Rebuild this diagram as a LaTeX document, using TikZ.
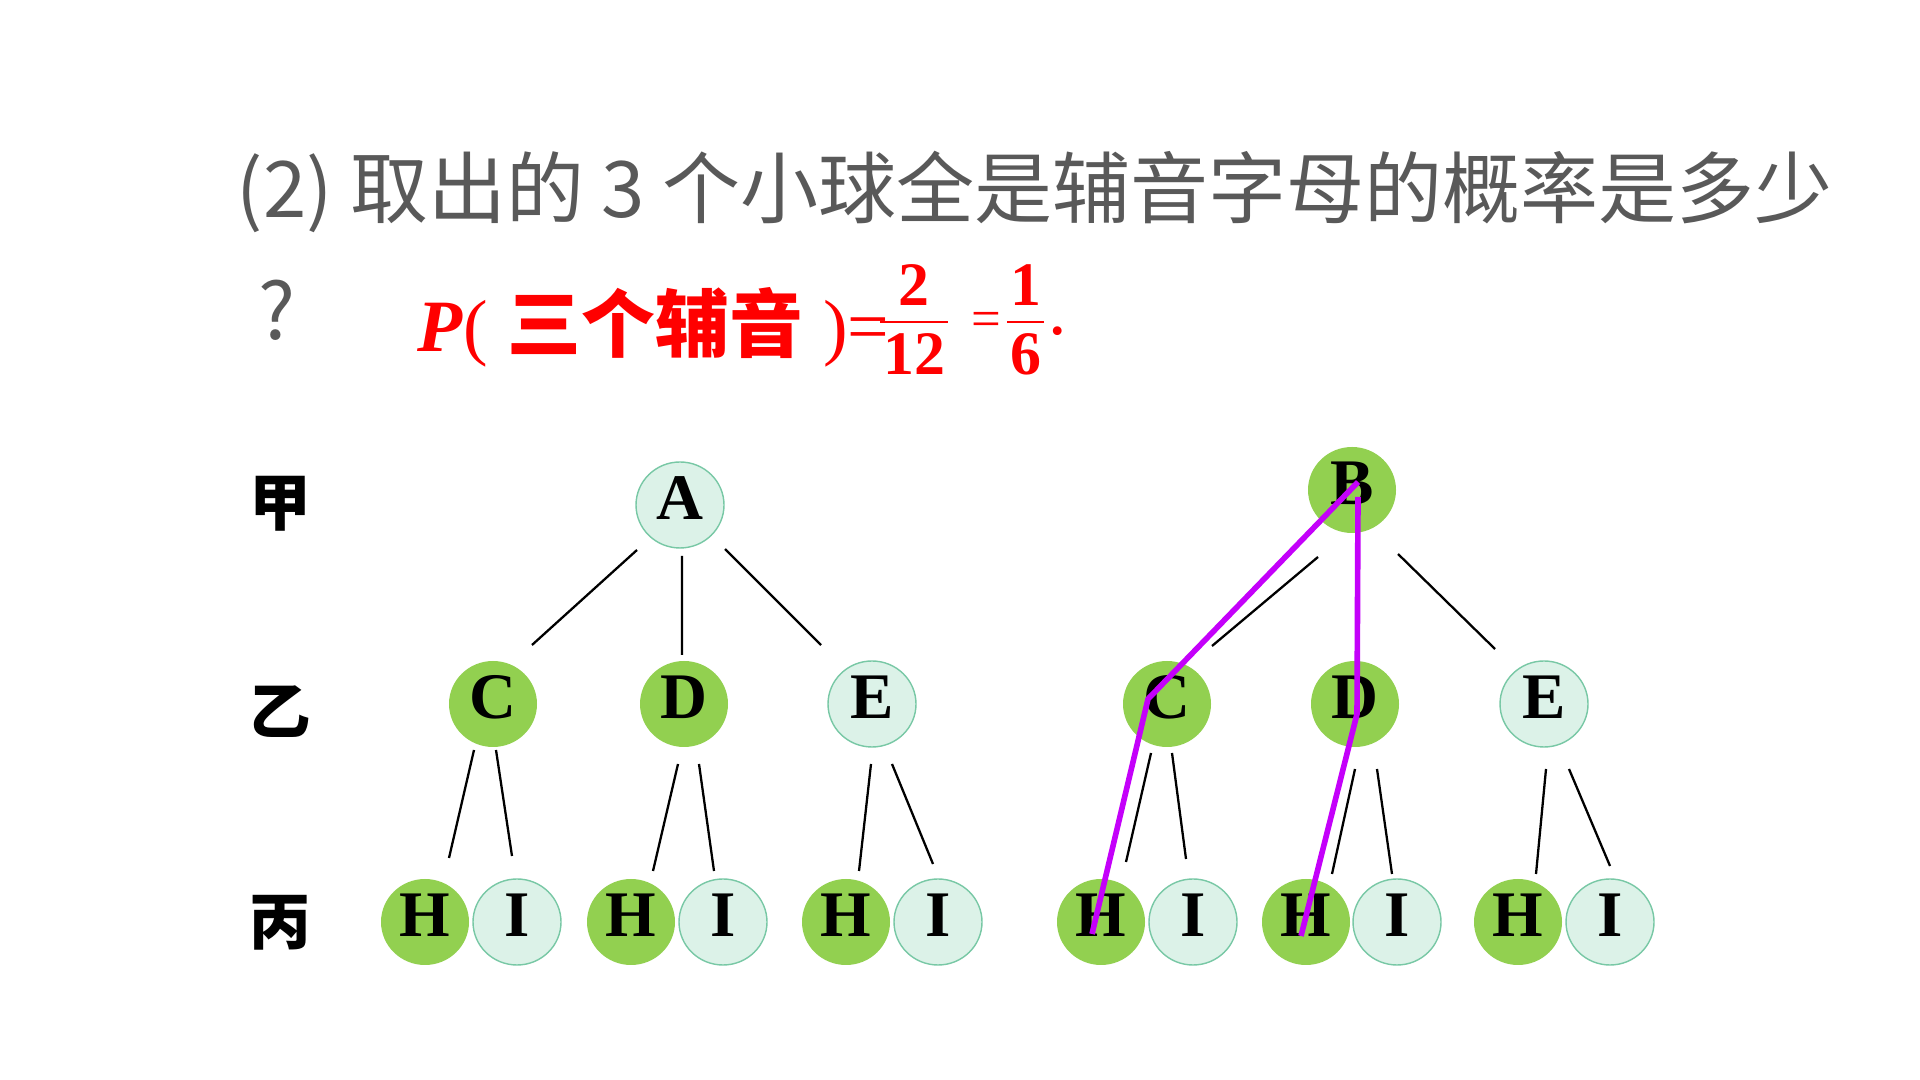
\documentclass[tikz,border=0pt]{standalone}
\usepackage{fontspec}
\setmainfont{Liberation Serif}
\newfontfamily\cjk{Noto Sans CJK SC}
\usetikzlibrary{shapes.geometric}

\definecolor{ballgreen}{RGB}{146,208,80}
\definecolor{ballpale}{RGB}{220,242,232}
\definecolor{ballrim}{RGB}{120,200,165}
\definecolor{titlegray}{RGB}{89,89,89}
\definecolor{pathpurple}{RGB}{196,0,250}

% stacked fraction, bar tight to the digits
\newcommand{\ratio}[2]{\raisebox{2.8pt}{\setlength{\tabcolsep}{0.8pt}\setlength{\arrayrulewidth}{0.7pt}%
    \renewcommand{\arraystretch}{0.7}\begin{tabular}{c}\textbf{#1}\\\hline\rule{0pt}{14.5pt}\textbf{#2}\end{tabular}}}

\begin{document}
\begin{tikzpicture}[
    ball/.style={ellipse, minimum width=0.88cm, minimum height=0.86cm, inner sep=0pt,
        text height=0.43cm, text depth=0.14cm, font=\fontsize{18.5}{20}\selectfont\bfseries},
    cons/.style={ball, fill=ballgreen},
    vow/.style={ball, fill=ballpale, draw=ballrim, line width=0.4pt},
    branch/.style={line width=0.65pt},
    pick/.style={draw=pathpurple, line width=1.6pt, line join=round},
    rowlabel/.style={font=\cjk\bfseries\fontsize{17.5}{20}\selectfont}
]
    \useasboundingbox (0,0) rectangle (19.2,10.8);
    \fill[white] (0,0) rectangle (19.2,10.8);

    % question and answer
    \node[anchor=west, inner sep=0pt, text=titlegray, font=\cjk\fontsize{22.2}{26}\selectfont] (title) at (2.36,8.88)
        {(2) 取出的 3 个小球全是辅音字母的概率是多少};
    \node[inner sep=0pt, text=titlegray, font=\cjk\fontsize{22.2}{26}\selectfont] (qmark) at (2.77,7.70) {?};
    \node[anchor=base west, inner sep=0pt, text=red, font=\fontsize{21}{24}\selectfont] (answer) at (4.17,7.28)
        {\textbf{\textit{P}}(\hspace{0.2cm}{\cjk\bfseries 三个辅音}\hspace{0.2cm})=\hspace{-0.09cm}{\fontsize{17.6}{20}\selectfont\ratio{2}{12}}\hspace{0.24cm}\raisebox{4.3pt}{\fontsize{15}{17}\selectfont =}\hspace{0.06cm}{\fontsize{17.6}{20}\selectfont\ratio{1}{6}}\hspace{0.04cm}\raisebox{0.17cm}{.}};

    % row labels
    \node[rowlabel] (jia) at (2.80,5.76) {甲};
    \node[rowlabel] (yi) at (2.80,3.68) {乙};
    \node[rowlabel] (bing) at (2.80,1.57) {丙};

    % left tree
    \node[vow] (A) at (6.80,5.75) {A};
    \node[cons] (C1) at (4.93,3.76) {C};
    \node[cons] (D1) at (6.84,3.76) {D};
    \node[vow] (E1) at (8.72,3.76) {E};

    % right tree
    \node[cons] (B) at (13.52,5.90) {B};
    \node[cons] (C2) at (11.67,3.76) {C};
    \node[cons] (D2) at (13.55,3.76) {D};
    \node[vow] (E2) at (15.44,3.76) {E};

    % third row
    \foreach \n/\x in {H1/4.25, H2/6.31, H3/8.46, H4/11.01, H5/13.06, H6/15.18}
        \node[cons] (\n) at (\x,1.58) {H};
    \foreach \n/\x in {I1/5.17, I2/7.23, I3/9.38, I4/11.93, I5/13.97, I6/16.10}
        \node[vow] (\n) at (\x,1.58) {I};

    % branches
    \foreach \p/\c/\a/\b/\e/\f in {
        A/C1/-0.43/-0.45/0.39/0.59, A/D1/0.02/-0.51/-0.02/0.49, A/E1/0.45/-0.44/-0.51/0.59,
        C1/H1/-0.19/-0.46/0.24/0.64, C1/I1/0.03/-0.46/-0.05/0.66,
        D1/H2/-0.06/-0.60/0.22/0.51, D1/I2/0.15/-0.60/-0.09/0.51,
        E1/H3/-0.01/-0.60/0.13/0.51, E1/I3/0.20/-0.60/-0.05/0.58,
        B/C2/-0.34/-0.67/0.45/0.58, B/E2/0.46/-0.64/-0.49/0.55,
        C2/H4/-0.16/-0.49/0.25/0.60, C2/I4/0.05/-0.49/-0.07/0.63,
        D2/H5/0.00/-0.65/0.26/0.48, D2/I5/0.22/-0.65/-0.05/0.48,
        E2/H6/0.02/-0.65/0.18/0.48, E2/I6/0.25/-0.65/0.00/0.56}
        \draw[branch] ([shift={(\a,\b)}]\p.center) -- ([shift={(\e,\f)}]\c.center);

    % all-consonant paths
    \draw[pick] ([shift={(0.06,0.08)}]B.center) -- ([shift={(-0.19,0.05)}]C2.center) -- ([shift={(-0.09,-0.12)}]H4.center);
    \draw[pick] ([shift={(0.06,-0.07)}]B.center) -- ([shift={(0.02,-0.10)}]D2.center) -- ([shift={(-0.05,-0.14)}]H5.center);
\end{tikzpicture}
\end{document}
